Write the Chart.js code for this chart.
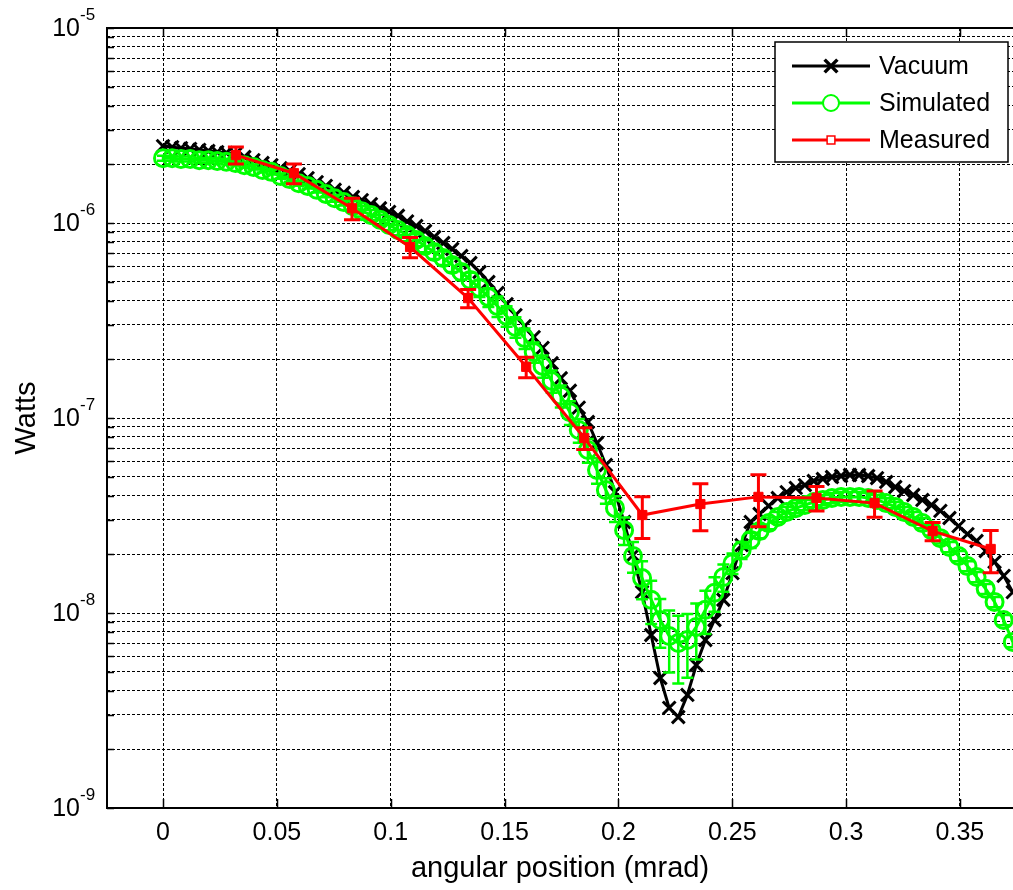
<!DOCTYPE html>
<html>
<head>
<meta charset="utf-8">
<script src="https://cdn.jsdelivr.net/npm/chart.js@4.4.1/dist/chart.umd.min.js"></script>
<style>
  html, body { margin: 0; padding: 0; background: #fff; }
  canvas { display: block; }
</style>
</head>
<body>
<canvas id="plot" width="1013" height="890"></canvas>
<script>
// angular position (mrad) of the dense vacuum / simulated curves
const angle = [0, 0.0040, 0.0079, 0.0119, 0.0159, 0.0199, 0.0238, 0.0278, 0.0318, 0.0357,
  0.0397, 0.0437, 0.0476, 0.0516, 0.0556, 0.0596, 0.0635, 0.0675, 0.0715, 0.0754,
  0.0794, 0.0834, 0.0873, 0.0913, 0.0953, 0.0993, 0.1032, 0.1072, 0.1112, 0.1151,
  0.1191, 0.1231, 0.1270, 0.1310, 0.1350, 0.1390, 0.1429, 0.1469, 0.1509, 0.1548,
  0.1588, 0.1628, 0.1667, 0.1707, 0.1747, 0.1787, 0.1826, 0.1866, 0.1906, 0.1945,
  0.1985, 0.2025, 0.2064, 0.2104, 0.2144, 0.2184, 0.2223, 0.2263, 0.2303, 0.2342,
  0.2382, 0.2422, 0.2461, 0.2501, 0.2541, 0.2581, 0.2620, 0.2660, 0.2700, 0.2739,
  0.2779, 0.2819, 0.2858, 0.2898, 0.2938, 0.2978, 0.3017, 0.3057, 0.3097, 0.3136,
  0.3176, 0.3216, 0.3255, 0.3295, 0.3335, 0.3375, 0.3414, 0.3454, 0.3494, 0.3533,
  0.3573, 0.3613, 0.3652, 0.3692, 0.3732];

// Vacuum (Watts)
const vacuum = [2.48e-6, 2.45e-6, 2.42e-6, 2.40e-6, 2.37e-6, 2.34e-6, 2.31e-6, 2.29e-6, 2.26e-6, 2.18e-6,
  2.10e-6, 2.03e-6, 1.98e-6, 1.91e-6, 1.85e-6, 1.78e-6, 1.70e-6, 1.62e-6, 1.55e-6, 1.48e-6,
  1.43e-6, 1.36e-6, 1.31e-6, 1.25e-6, 1.19e-6, 1.14e-6, 1.09e-6, 1.02e-6, 9.65e-7, 9.10e-7,
  8.48e-7, 7.90e-7, 7.36e-7, 6.77e-7, 6.24e-7, 5.61e-7, 4.98e-7, 4.38e-7, 3.84e-7, 3.37e-7,
  2.96e-7, 2.60e-7, 2.29e-7, 1.91e-7, 1.60e-7, 1.38e-7, 1.13e-7, 9.54e-8, 7.44e-8, 5.74e-8,
  4.17e-8, 2.93e-8, 1.98e-8, 1.28e-8, 7.71e-9, 4.64e-9, 3.26e-9, 2.93e-9, 3.80e-9, 5.41e-9,
  7.27e-9, 9.21e-9, 1.17e-8, 1.60e-8, 2.23e-8, 2.93e-8, 3.22e-8, 3.54e-8, 3.89e-8, 4.17e-8,
  4.38e-8, 4.53e-8, 4.75e-8, 4.87e-8, 4.98e-8, 5.04e-8, 5.10e-8, 5.10e-8, 5.04e-8, 4.92e-8,
  4.70e-8, 4.43e-8, 4.22e-8, 4.03e-8, 3.80e-8, 3.58e-8, 3.34e-8, 3.07e-8, 2.79e-8, 2.54e-8,
  2.34e-8, 2.08e-8, 1.83e-8, 1.55e-8, 1.28e-8];

// Simulated (Watts) and its relative error
const simulated = [2.15e-6, 2.15e-6, 2.13e-6, 2.13e-6, 2.10e-6, 2.10e-6, 2.08e-6, 2.06e-6, 2.03e-6, 1.98e-6,
  1.94e-6, 1.87e-6, 1.83e-6, 1.74e-6, 1.68e-6, 1.60e-6, 1.55e-6, 1.48e-6, 1.41e-6, 1.34e-6,
  1.28e-6, 1.22e-6, 1.15e-6, 1.10e-6, 1.04e-6, 9.77e-7, 9.21e-7, 8.68e-7, 8.18e-7, 7.62e-7,
  7.10e-7, 6.61e-7, 6.09e-7, 5.61e-7, 5.10e-7, 4.64e-7, 4.17e-7, 3.75e-7, 3.34e-7, 2.93e-7,
  2.57e-7, 2.18e-7, 1.85e-7, 1.55e-7, 1.30e-7, 1.07e-7, 8.68e-8, 6.85e-8, 5.41e-8, 4.27e-8,
  3.45e-8, 2.66e-8, 1.96e-8, 1.51e-8, 1.17e-8, 9.21e-9, 7.62e-9, 7.02e-9, 7.27e-9, 8.48e-9,
  1.04e-8, 1.27e-8, 1.53e-8, 1.80e-8, 2.10e-8, 2.37e-8, 2.63e-8, 2.89e-8, 3.11e-8, 3.30e-8,
  3.45e-8, 3.58e-8, 3.71e-8, 3.80e-8, 3.89e-8, 3.94e-8, 3.94e-8, 3.94e-8, 3.89e-8, 3.80e-8,
  3.66e-8, 3.50e-8, 3.30e-8, 3.11e-8, 2.89e-8, 2.66e-8, 2.42e-8, 2.18e-8, 1.96e-8, 1.74e-8,
  1.53e-8, 1.33e-8, 1.14e-8, 9.21e-9, 7.10e-9];

const simErr = [0.03, 0.03, 0.03, 0.03, 0.03, 0.03, 0.03, 0.03, 0.03, 0.03,
  0.03, 0.03, 0.03, 0.03, 0.03, 0.03, 0.03, 0.03, 0.04, 0.04,
  0.04, 0.06, 0.06, 0.06, 0.06, 0.06, 0.06, 0.07, 0.07, 0.07,
  0.08, 0.08, 0.08, 0.09, 0.09, 0.10, 0.11, 0.12, 0.12, 0.12,
  0.12, 0.12, 0.13, 0.13, 0.13, 0.14, 0.14, 0.14, 0.15, 0.15,
  0.15, 0.16, 0.18, 0.22, 0.25, 0.28, 0.35, 0.38, 0.36, 0.32,
  0.25, 0.20, 0.16, 0.12, 0.10, 0.09, 0.08, 0.07, 0.06, 0.06,
  0.06, 0.06, 0.06, 0.06, 0.06, 0.06, 0.06, 0.06, 0.06, 0.06,
  0.06, 0.06, 0.06, 0.06, 0.06, 0.06, 0.06, 0.06, 0.06, 0.06,
  0.06, 0.06, 0.06, 0.06, 0.06];

// Measured (Watts) with absolute error
const measAngle = [0.032, 0.0575, 0.083, 0.1085, 0.134, 0.1595, 0.185, 0.2105, 0.236, 0.2615, 0.287, 0.3125, 0.338, 0.3635];
const measured = [2.23e-6, 1.80e-6, 1.19e-6, 7.53e-7, 4.12e-7, 1.83e-7, 7.9e-8, 3.18e-8, 3.62e-8, 3.94e-8, 3.89e-8, 3.66e-8, 2.63e-8, 2.13e-8];
const measErr = [2.2e-7, 2.1e-7, 1.5e-7, 9.0e-8, 4.4e-8, 2.2e-8, 1.0e-8, 7.7e-9, 9.8e-9, 1.17e-8, 5.6e-9, 5.6e-9, 2.8e-9, 5.2e-9];

const xTicks = [0, 0.05, 0.1, 0.15, 0.2, 0.25, 0.3, 0.35];
const xTickLabels = ['0', '0.05', '0.1', '0.15', '0.2', '0.25', '0.3', '0.35'];
const yGrid = [1e-9, 2e-9, 3e-9, 4e-9, 5e-9, 6e-9, 7e-9, 8e-9, 9e-9,
  1e-8, 2e-8, 3e-8, 4e-8, 5e-8, 6e-8, 7e-8, 8e-8, 9e-8,
  1e-7, 2e-7, 3e-7, 4e-7, 5e-7, 6e-7, 7e-7, 8e-7, 9e-7,
  1e-6, 2e-6, 3e-6, 4e-6, 5e-6, 6e-6, 7e-6, 8e-6, 9e-6, 1e-5];
const yDecades = [1e-9, 1e-8, 1e-7, 1e-6, 1e-5];
const yDecadeExp = ['-9', '-8', '-7', '-6', '-5'];

const FONT = '"Liberation Sans", Arial, Helvetica, sans-serif';
Chart.defaults.font.family = FONT;
Chart.defaults.color = '#000';

const pts = (xs, ys) => xs.map((x, i) => ({ x: x, y: ys[i] }));

// error bars drawn right after their own dataset, inside the plot area
const errorBars = {
  id: 'errorBars',
  afterDatasetDraw(chart, args) {
    const ds = chart.data.datasets[args.index];
    if (!ds.errors) return;
    const { ctx, chartArea: a, scales: { x, y } } = chart;
    ctx.save();
    ctx.beginPath();
    ctx.rect(a.left, a.top, a.right - a.left, a.bottom - a.top);
    ctx.clip();
    ctx.strokeStyle = ds.borderColor;
    ctx.lineWidth = ds.errWidth;
    ctx.beginPath();
    ds.data.forEach((p, i) => {
      const e = ds.errors[i];
      const px = x.getPixelForValue(p.x);
      const t = y.getPixelForValue(p.y + e);
      const b = y.getPixelForValue(p.y - e);
      const c = ds.capHalf;
      ctx.moveTo(px, t); ctx.lineTo(px, b);
      ctx.moveTo(px - c, t); ctx.lineTo(px + c, t);
      ctx.moveTo(px - c, b); ctx.lineTo(px + c, b);
    });
    ctx.stroke();
    ctx.restore();
  }
};

// axes box, inward ticks, tick labels (with exponents), legend box
const frame = {
  id: 'frame',
  afterDraw(chart) {
    const { ctx, chartArea: a, scales: { x, y } } = chart;
    ctx.save();
    ctx.strokeStyle = '#000';
    ctx.lineWidth = 2;
    ctx.beginPath();
    ctx.moveTo(a.right, a.top); ctx.lineTo(a.left, a.top);
    ctx.lineTo(a.left, a.bottom); ctx.lineTo(a.right, a.bottom);
    ctx.stroke();

    ctx.lineWidth = 1.5;
    ctx.beginPath();
    yGrid.forEach(v => {
      const py = Math.round(y.getPixelForValue(v)) + 0.5;
      ctx.moveTo(a.left, py); ctx.lineTo(a.left + 7, py);
    });
    xTicks.forEach(v => {
      const px = Math.round(x.getPixelForValue(v)) + 0.5;
      ctx.moveTo(px, a.bottom); ctx.lineTo(px, a.bottom - 9);
      ctx.moveTo(px, a.top); ctx.lineTo(px, a.top + 9);
    });
    ctx.stroke();

    ctx.fillStyle = '#000';
    ctx.textBaseline = 'middle';
    ctx.font = '25px ' + FONT;
    ctx.textAlign = 'center';
    xTicks.forEach((v, i) => {
      ctx.fillText(xTickLabels[i], x.getPixelForValue(v), a.bottom + 25);
    });
    yDecades.forEach((v, i) => {
      const py = y.getPixelForValue(v);
      ctx.font = '25px ' + FONT;
      ctx.textAlign = 'right';
      ctx.fillText('10', 80, py + 1);
      ctx.font = '17px ' + FONT;
      ctx.textAlign = 'left';
      ctx.fillText(yDecadeExp[i], 80, py - 13);
    });

    // legend
    const L = { left: 775, top: 42, right: 1008, bottom: 162 };
    ctx.fillStyle = '#fff';
    ctx.fillRect(L.left, L.top, L.right - L.left, L.bottom - L.top);
    ctx.lineWidth = 1.5;
    ctx.strokeRect(L.left, L.top, L.right - L.left, L.bottom - L.top);
    const rows = [66, 103, 140];
    const order = [2, 1, 0];
    order.forEach((di, r) => {
      const ds = chart.data.datasets[di];
      const ry = rows[r];
      ctx.strokeStyle = ds.borderColor;
      ctx.lineWidth = 3;
      ctx.beginPath();
      ctx.moveTo(792, ry); ctx.lineTo(870, ry);
      ctx.stroke();
      ctx.lineWidth = ds.legendMarkWidth;
      ctx.fillStyle = '#fff';
      Chart.helpers.drawPoint(ctx, {
        pointStyle: ds.pointStyle, radius: ds.legendMarkRadius, borderWidth: ds.legendMarkWidth, rotation: 0
      }, 831, ry);
      ctx.fillStyle = '#000';
      ctx.font = '25px ' + FONT;
      ctx.textAlign = 'left';
      ctx.textBaseline = 'middle';
      ctx.fillText(ds.label, 879, ry + 1);
    });
    ctx.restore();
  }
};

new Chart(document.getElementById('plot'), {
  type: 'line',
  data: {
    datasets: [
      {
        label: 'Measured',
        data: pts(measAngle, measured),
        errors: measErr,
        errWidth: 3,
        capHalf: 8,
        borderColor: '#ff0000',
        borderWidth: 3,
        pointStyle: 'rect',
        pointRadius: 6.5,
        pointBorderWidth: 1,
        pointBackgroundColor: '#ff0000',
        pointBorderColor: '#ff0000',
        legendMarkRadius: 5.5,
        legendMarkWidth: 1.5,
        order: 1
      },
      {
        label: 'Simulated',
        data: pts(angle, simulated),
        errors: simulated.map((v, i) => v * simErr[i]),
        errWidth: 2.5,
        capHalf: 6,
        borderColor: '#00ff00',
        borderWidth: 3,
        pointStyle: 'circle',
        pointRadius: 8.5,
        pointBorderWidth: 3,
        pointBackgroundColor: 'rgba(0,0,0,0)',
        pointBorderColor: '#00ff00',
        legendMarkRadius: 8,
        legendMarkWidth: 2,
        order: 2
      },
      {
        label: 'Vacuum',
        data: pts(angle, vacuum),
        borderColor: '#000000',
        borderWidth: 3,
        pointStyle: 'crossRot',
        pointRadius: 9,
        pointBorderWidth: 3,
        pointBorderColor: '#000000',
        legendMarkRadius: 9,
        legendMarkWidth: 3.5,
        order: 3
      }
    ]
  },
  options: {
    responsive: false,
    animation: false,
    devicePixelRatio: 1,
    layout: { autoPadding: false, padding: { top: 28, left: 0, right: 0, bottom: 0 } },
    plugins: {
      legend: { display: false },
      tooltip: { enabled: false }
    },
    elements: { line: { tension: 0 } },
    scales: {
      x: {
        type: 'linear',
        min: -0.0246,
        max: 0.3733,
        afterBuildTicks: axis => { axis.ticks = xTicks.map(v => ({ value: v })); },
        afterFit: axis => { axis.height = 82; },
        ticks: { display: false, autoSkip: false },
        grid: { color: '#000', lineWidth: 1, drawTicks: false },
        border: { display: false, dash: [3, 2] },
        title: {
          display: true,
          text: 'angular position (mrad)',
          font: { size: 29 },
          padding: { top: 0, bottom: 4 }
        }
      },
      y: {
        type: 'logarithmic',
        min: 1e-9,
        max: 1e-5,
        afterBuildTicks: axis => { axis.ticks = yGrid.map(v => ({ value: v })); },
        afterFit: axis => { axis.width = 107; },
        ticks: { display: false, autoSkip: false },
        grid: { color: '#000', lineWidth: 1, drawTicks: false },
        border: { display: false, dash: [3, 2] },
        title: {
          display: true,
          text: 'Watts',
          font: { size: 29 },
          padding: { top: 10, bottom: 0 }
        }
      }
    }
  },
  plugins: [errorBars, frame]
});
</script>
</body>
</html>
